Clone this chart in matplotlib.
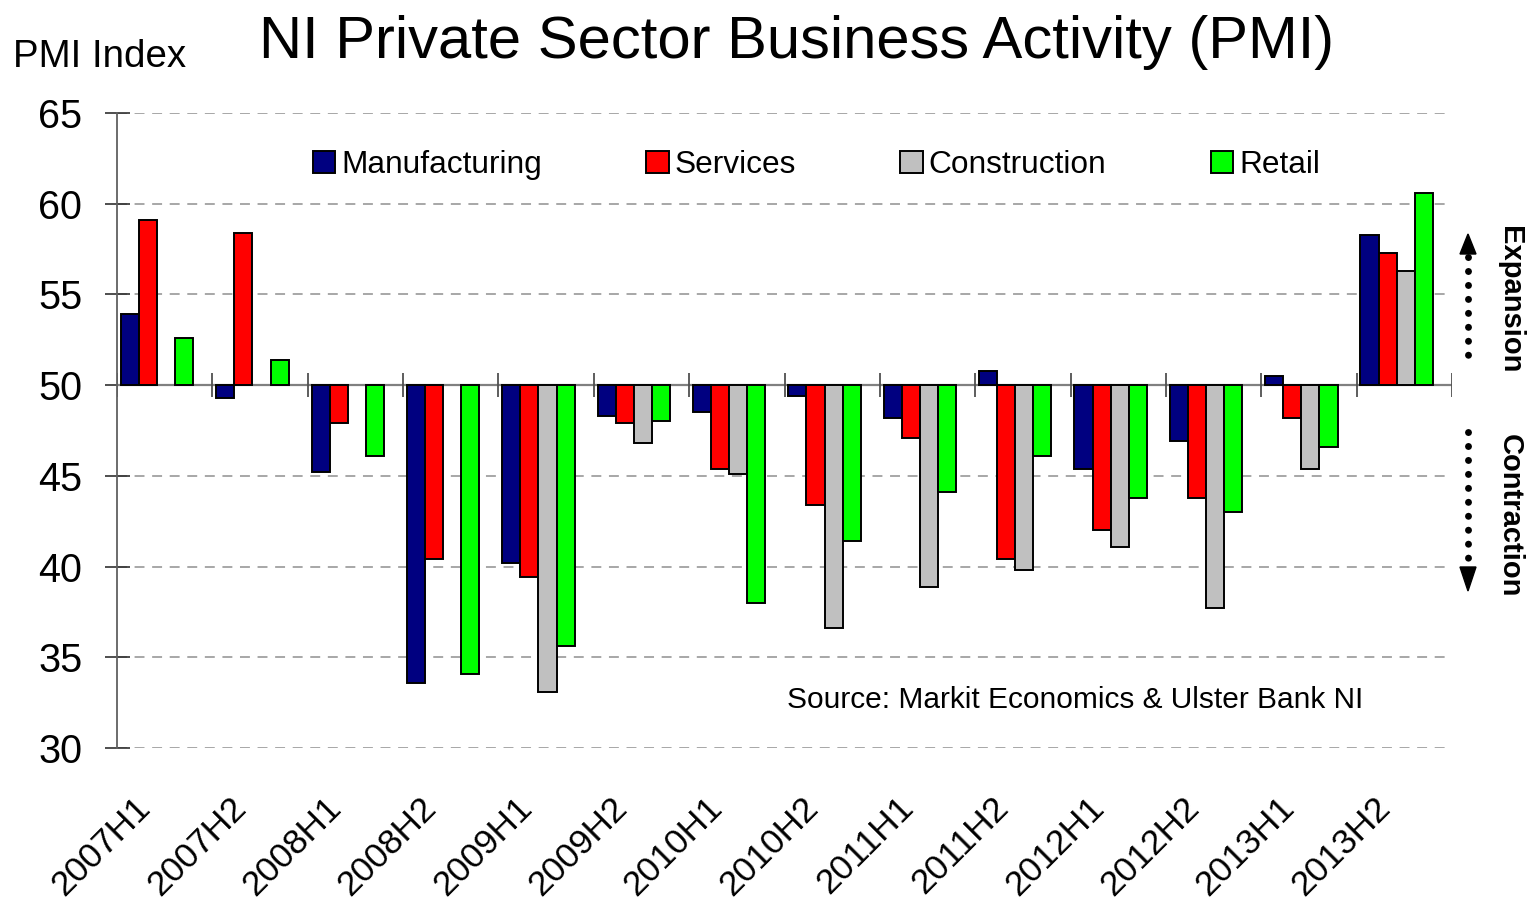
import numpy as np
import matplotlib
matplotlib.use("Agg")
import matplotlib.pyplot as plt
from matplotlib.lines import Line2D
from matplotlib.patches import Polygon
import matplotlib.transforms as mtransforms

plt.rcParams['font.family'] = ['Liberation Sans', 'DejaVu Sans']

periods = ["2007H1", "2007H2", "2008H1", "2008H2", "2009H1", "2009H2", "2010H1",
           "2010H2", "2011H1", "2011H2", "2012H1", "2012H2", "2013H1", "2013H2"]
manufacturing = [53.9, 49.3, 45.2, 33.6, 40.2, 48.3, 48.5, 49.4, 48.2, 50.8, 45.4, 46.9, 50.5, 58.3]
services = [59.1, 58.4, 47.9, 40.4, 39.4, 47.9, 45.4, 43.4, 47.1, 40.4, 42.0, 43.8, 48.2, 57.3]
construction = [np.nan, np.nan, np.nan, np.nan, 33.1, 46.8, 45.1, 36.6, 38.9, 39.8, 41.1, 37.7, 45.4, 56.3]
retail = [52.6, 51.4, 46.1, 34.1, 35.6, 48.0, 38.0, 41.4, 44.1, 46.1, 43.8, 43.0, 46.6, 60.6]

series_names = ["Manufacturing", "Services", "Construction", "Retail"]
series_colors = ["#000080", "#FF0000", "#C0C0C0", "#00FF00"]
baseline = 50

W, H = 1529, 907
fig = plt.figure(figsize=(W / 100, H / 100), dpi=100)
ax = fig.add_axes([117 / W, 1 - 748 / H, (1452 - 117) / W, (748 - 113) / H])

n = len(periods)
bar_w = 0.19
start = 0.04
handles = []
for k, (vals, name, col) in enumerate(zip([manufacturing, services, construction, retail],
                                          series_names, series_colors)):
    vals = np.array(vals, dtype=float)
    ok = ~np.isnan(vals)
    x = np.arange(n) - 0.5 + start + bar_w / 2 + k * bar_w
    b = ax.bar(x[ok], vals[ok] - baseline, bottom=baseline, width=bar_w,
               color=col, edgecolor='black', linewidth=1.4, label=name, zorder=3)
    handles.append(b)

ax.set_xlim(-0.5, n - 0.5)
ax.set_ylim(30, 65)

# baseline at 50 with group ticks
ax.axhline(baseline, color='#808080', lw=1.6, zorder=2)
ax.vlines(np.arange(n + 1) - 0.5, baseline - 0.66, baseline + 0.66,
          color='#505050', lw=1.3, zorder=2)

ax.set_yticks(np.arange(30, 66, 5))
ax.tick_params(axis='y', direction='inout', length=18, width=1.2, color='#303030',
               labelsize=28.5, pad=16)
ax.yaxis.grid(True, linestyle=(0, (6.5, 5)), color='#909090', lw=1.1, zorder=0)
ax.set_axisbelow(True)

ax.set_xticks(np.arange(n))
ax.set_xticklabels(periods, rotation=45, ha='right', va='top', rotation_mode='anchor',
                   fontsize=25.5)
ax.tick_params(axis='x', length=0, pad=31)
offset = mtransforms.ScaledTranslation(-31 / 100, 0, fig.dpi_scale_trans)
for lab in ax.get_xticklabels():
    lab.set_transform(lab.get_transform() + offset)

for s in ['top', 'right', 'bottom']:
    ax.spines[s].set_visible(False)
ax.spines['left'].set_color('#606060')
ax.spines['left'].set_linewidth(1.3)

leg = fig.legend(handles=handles, loc='center left', bbox_to_anchor=(313 / W, 1 - 165 / H),
                 ncol=4, frameon=False, fontsize=22.8, handlelength=0.7, handleheight=0.7,
                 handletextpad=0.19, columnspacing=3.3, borderpad=0, borderaxespad=0)

fig.text(797 / W, 1 - 58 / H, "NI Private Sector Business Activity (PMI)",
         ha='center', va='baseline', fontsize=43)
fig.text(13 / W, 1 - 67 / H, "PMI Index", ha='left', va='baseline', fontsize=27.7)
fig.text(787 / W, 1 - 708 / H, "Source: Markit Economics & Ulster Bank NI",
         ha='left', va='baseline', fontsize=21.5)

fig.text(1510 / W, 1 - 300 / H, "Expansion", rotation=-90, ha='center', va='center',
         fontsize=21, fontweight='bold')
fig.text(1510 / W, 1 - 516 / H, "Contraction", rotation=-90, ha='center', va='center',
         fontsize=21, fontweight='bold')

ax_x = 1468
for y1, y2 in [(257, 368), (432, 563)]:
    fig.add_artist(Line2D([ax_x / W, ax_x / W], [1 - y1 / H, 1 - y2 / H],
                          transform=fig.transFigure, color='black', lw=5,
                          linestyle=(0, (0.01, 2.0)), dash_capstyle='round'))
for tip, base in [(234, 254), (591, 567)]:
    fig.add_artist(Polygon([[ax_x / W, 1 - tip / H], [(ax_x - 8) / W, 1 - base / H],
                            [(ax_x + 8) / W, 1 - base / H]], closed=True,
                           transform=fig.transFigure, color='black'))

fig.savefig("out.png", dpi=100)
